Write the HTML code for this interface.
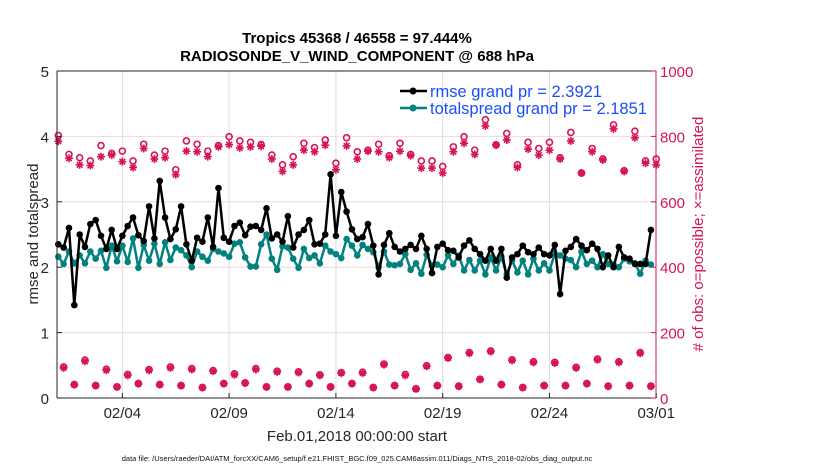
<!DOCTYPE html>
<html><head><meta charset="utf-8"><style>
body{margin:0;background:#fff;}
svg{display:block;font-family:"Liberation Sans",sans-serif;}
</style></head><body>
<svg id="chart" width="830" height="470" viewBox="0 0 830 470">
<rect width="830" height="470" fill="#fff"/>
<g id="grid"></g>
<g id="series"></g>
<g id="axes"></g>
<text x="357" y="43" text-anchor="middle" font-size="15" font-weight="bold">Tropics 45368 / 46558 = 97.444%</text>
<text x="357" y="61" text-anchor="middle" font-size="15" font-weight="bold">RADIOSONDE_V_WIND_COMPONENT @ 688 hPa</text>
<text x="357" y="441" text-anchor="middle" font-size="15" fill="#262626">Feb.01,2018 00:00:00 start</text>
<text transform="translate(38,234) rotate(-90)" text-anchor="middle" font-size="15" fill="#262626">rmse and totalspread</text>
<text transform="translate(703,234) rotate(-90)" text-anchor="middle" font-size="15" fill="#d6135a"># of obs: o=possible; ×=assimilated</text>
<text x="357" y="461" text-anchor="middle" font-size="7.5" fill="#111">data file: /Users/raeder/DAI/ATM_forcXX/CAM6_setup/f.e21.FHIST_BGC.f09_025.CAM6assim.011/Diags_NTrS_2018-02/obs_diag_output.nc</text>
<g>
  <line x1="400" y1="91" x2="427" y2="91" stroke="#000" stroke-width="2.5"/>
  <circle cx="413" cy="91" r="3.5" fill="#000"/>
  <text x="430" y="97" font-size="16.5" fill="#1a4dff">rmse grand pr = 2.3921</text>
  <line x1="400" y1="108" x2="427" y2="108" stroke="#00827f" stroke-width="2.5"/>
  <circle cx="413" cy="108" r="3.5" fill="#00827f"/>
  <text x="430" y="114" font-size="16.5" fill="#1a4dff">totalspread grand pr = 2.1851</text>
</g>
</svg>
<script>
const rmse=[2.35,2.30,2.60,1.42,2.50,2.31,2.66,2.72,2.48,2.28,2.57,2.28,2.48,2.63,2.76,2.49,2.40,2.93,2.44,
3.32,2.76,2.43,2.58,2.93,2.35,2.10,2.45,2.39,2.76,2.31,3.21,2.45,2.39,2.63,2.68,2.49,2.62,
2.63,2.57,2.90,2.44,2.50,2.39,2.78,2.30,2.50,2.57,2.72,2.35,2.36,2.50,3.42,2.48,3.15,2.85,2.58,
2.43,2.46,2.66,2.33,1.89,2.34,2.52,2.31,2.24,2.28,2.34,2.28,2.48,2.28,1.91,2.31,2.36,2.26,
2.25,2.15,2.33,2.41,2.28,2.20,2.10,2.28,2.10,2.28,1.84,2.15,2.20,2.33,2.23,2.20,2.30,2.20,2.18,
2.34,1.59,2.25,2.31,2.43,2.33,2.26,2.36,2.28,2.00,2.18,2.00,2.31,2.15,2.13,2.05,2.05,2.05,2.57];
const spread=[2.16,2.05,2.24,2.06,2.18,2.06,2.24,2.13,2.25,1.99,2.33,2.09,2.33,2.08,2.44,1.99,2.34,2.10,2.36,
2.05,2.38,2.11,2.30,2.26,2.18,2.00,2.24,2.16,2.10,2.28,2.24,2.21,2.16,2.36,2.38,2.15,2.01,
2.01,2.35,2.50,2.13,1.96,2.32,2.30,2.13,1.99,2.28,2.14,2.18,2.06,2.33,2.24,2.20,2.14,2.43,2.33,
2.18,2.34,2.28,2.23,2.00,2.24,2.04,2.03,2.05,2.20,1.96,2.06,1.90,2.19,2.03,2.04,2.00,2.18,
2.05,2.18,1.95,2.11,1.95,2.10,1.89,2.15,1.95,2.16,1.89,2.10,1.92,2.10,1.89,2.13,1.95,2.06,1.95,
2.21,2.18,2.13,2.11,2.00,2.24,2.05,2.10,2.00,2.20,2.05,2.04,2.00,2.13,2.09,2.06,1.90,2.10,2.04];
const upperAssim=[785,733,713,711,738,743,723,705,763,731,735,683,755,753,738,768,775,765,768,770,731,693,713,758,753,773,698,771,731,755,753,735,755,741,703,703,688,753,779,745,832,774,789,705,761,743,758,731,786,688,753,728,823,693,796,718,713];
const upperPossible=[803,745,735,725,772,748,755,725,776,743,755,698,786,776,755,772,799,786,782,775,743,713,738,779,766,789,718,796,753,758,776,741,779,745,725,725,708,768,799,758,851,774,809,713,782,763,782,735,812,688,763,731,835,695,816,725,731];
const lowerAssim=[92,41,112,38,85,34,69,44,85,41,92,38,87,32,82,44,71,46,87,34,80,34,78,44,69,34,76,44,76,32,102,38,69,28,97,38,122,36,137,57,142,41,115,32,109,38,107,38,92,44,117,36,109,38,137,36];
const lowerPossible=[95,41,116,38,88,34,72,44,87,41,95,38,90,32,84,44,74,46,90,34,82,34,80,44,71,34,78,44,79,32,104,38,72,28,99,38,124,36,139,57,144,41,117,32,111,38,109,38,94,44,119,36,111,38,139,36];
const xTickLabels=["02/04","02/09","02/14","02/19","02/24","03/01"];
const xTickDays=[3,8,13,18,23,28];
const yLeftTicks=[0,1,2,3,4,5];
const yRightTicks=[0,200,400,600,800,1000];

const X0=57,X1=656,Y0=398,Y1=71;
const xScale=d=>X0+(d/28.05)*(X1-X0)+1.3;
const yL=v=>Y0-v/5*(Y0-Y1);
const yR=v=>Y0-v/1000*(Y0-Y1);
const NS="http://www.w3.org/2000/svg";
function mk(tag,attrs,parent){const e=document.createElementNS(NS,tag);for(const k in attrs)e.setAttribute(k,attrs[k]);parent.appendChild(e);return e;}
const grid=document.getElementById('grid'),ser=document.getElementById('series'),ax=document.getElementById('axes');
const PINK="#d6135a",TEAL="#00827f";

yRightTicks.forEach(v=>{if(v>0&&v<1000){const l=mk('line',{x1:X0,x2:X1,y1:yR(v),y2:yR(v),stroke:'#f2d4df','stroke-width':1},grid);

}});
xTickDays.forEach(d=>{const x=xScale(d);if(x<X1-2){const l=mk('line',{x1:x,x2:x,y1:Y1,y2:Y0,stroke:'#dcdcdc','stroke-width':1},grid);

}});

function asterisk(cx,cy,g){const r=4;[[r,0],[0,r],[r*0.7,r*0.7],[r*0.7,-r*0.7]].forEach(([dx,dy])=>mk('line',{x1:cx-dx,y1:cy-dy,x2:cx+dx,y2:cy+dy,stroke:PINK,'stroke-width':1.6},g));}
const obsG=mk('g',{},ser);


upperAssim.forEach((v,k)=>{const x=xScale(k*0.5);asterisk(x,yR(v),obsG);
const c=mk('circle',{cx:x,cy:yR(upperPossible[k]),r:3,fill:'none',stroke:PINK,'stroke-width':1.6},obsG);

});
lowerAssim.forEach((v,k)=>{const x=xScale(k*0.5+0.25);asterisk(x,yR(v),obsG);
const c=mk('circle',{cx:x,cy:yR(lowerPossible[k]),r:3,fill:'none',stroke:PINK,'stroke-width':1.6},obsG);

});

function line(data,color,name){
  const pts=data.map((v,i)=>xScale(i*0.25).toFixed(1)+','+yL(v).toFixed(1)).join(' ');
  const p=mk('polyline',{points:pts,fill:'none',stroke:color,'stroke-width':2.5,'stroke-linejoin':'round'},ser);
  
  
  data.forEach((v,i)=>{const c=mk('circle',{cx:xScale(i*0.25),cy:yL(v),r:3.3,fill:color},ser);
  
  });
}
line(spread,TEAL,'totalspread');
line(rmse,'#000','rmse');

let a=mk('line',{x1:X0,x2:X0,y1:Y1,y2:Y0,stroke:'#262626','stroke-width':1},ax);


a=mk('line',{x1:X0,x2:X1,y1:Y0,y2:Y0,stroke:'#262626','stroke-width':1},ax);


a=mk('line',{x1:X0,x2:X1,y1:Y1,y2:Y1,stroke:'#262626','stroke-width':1},ax);


a=mk('line',{x1:X1,x2:X1,y1:Y1,y2:Y0,stroke:PINK,'stroke-width':1},ax);


yLeftTicks.forEach(v=>{const y=yL(v);mk('line',{x1:X0,x2:X0+5,y1:y,y2:y,stroke:'#262626'},ax);
const t=mk('text',{x:X0-8,y:y+6,'text-anchor':'end','font-size':15,fill:'#262626'},ax);t.textContent=v;

});
yRightTicks.forEach(v=>{const y=yR(v);mk('line',{x1:X1-5,x2:X1,y1:y,y2:y,stroke:PINK},ax);
const t=mk('text',{x:X1+4,y:y+6,'font-size':15,fill:PINK},ax);t.textContent=v;

});
xTickDays.forEach((d,i)=>{const x=xScale(d);mk('line',{x1:x,x2:x,y1:Y0-5,y2:Y0,stroke:'#262626'},ax);
const t=mk('text',{x:x,y:Y0+20,'text-anchor':'middle','font-size':15,fill:'#262626'},ax);t.textContent=xTickLabels[i];

});
</script>
</body></html>
